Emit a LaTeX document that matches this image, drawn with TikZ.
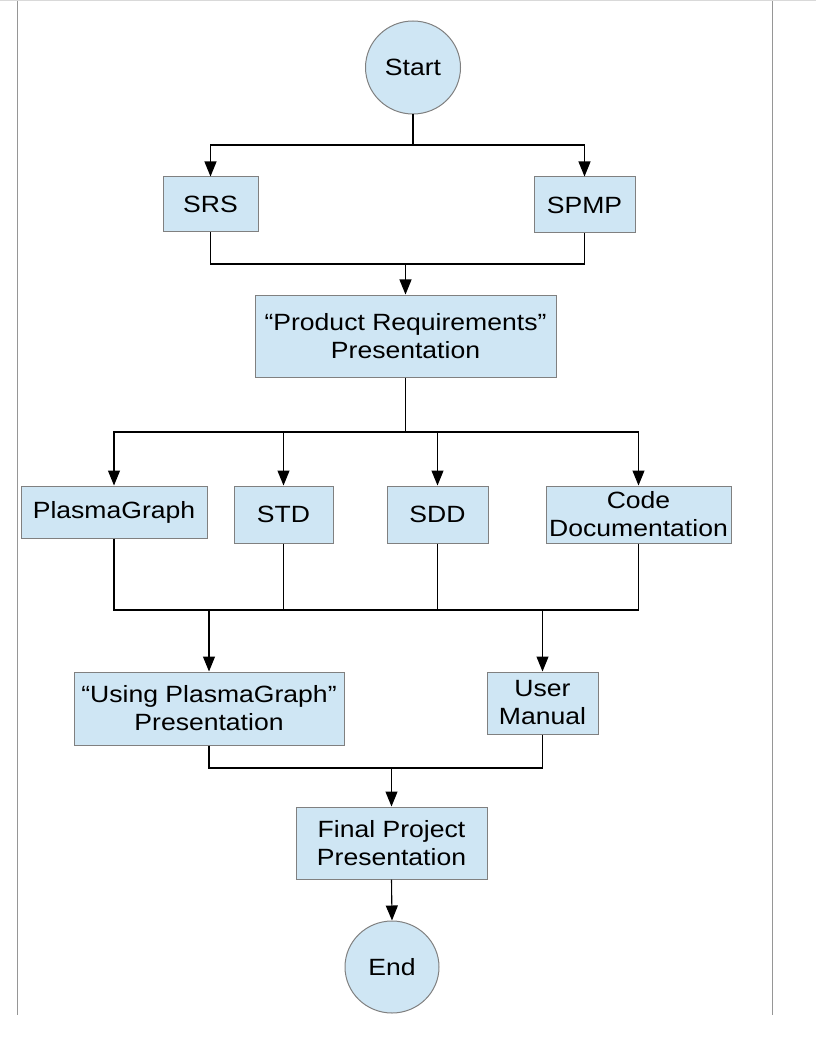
\documentclass[tikz,border=0pt]{standalone}
\usepackage{fontspec}
\setmainfont[FakeStretch=1.13]{Liberation Sans}
\usetikzlibrary{arrows.meta,shapes.geometric}
\definecolor{boxfill}{RGB}{207,230,244}
\definecolor{boxline}{RGB}{128,128,128}
\definecolor{pageline}{RGB}{150,150,150}
\begin{document}
\begin{tikzpicture}[x=1pt,y=-1pt,
  box/.style={draw=boxline,line width=1pt,fill=boxfill,align=center,inner sep=0pt,
    font=\fontsize{23.5}{28}\selectfont},
  term/.style={ellipse,draw=boxline,line width=1pt,fill=boxfill,inner sep=0pt,
    font=\fontsize{23.5}{28}\selectfont},
  conn/.style={line width=1.1pt,draw=black},
  arr/.style={conn,-{Triangle[length=15pt,width=12pt]}}]
\useasboundingbox (0,0) rectangle (816,1056);
\draw[pageline,line width=1pt] (17,0) -- (17,1015);
\draw[pageline,line width=1pt] (772,0) -- (772,1015);
\draw[black!15,line width=1pt] (0,0.5) -- (816,0.5);

\node[term,minimum width=95pt,minimum height=93pt] (start) at (413,67.5) {Start};
\node[box,minimum width=95pt,minimum height=55pt] (srs) at (210.5,204.5) {SRS};
\node[box,minimum width=101pt,minimum height=56pt] (spmp) at (584.5,205) {SPMP};
\node[box,minimum width=301pt,minimum height=82pt] (pr) at (405.5,336) {“Product Requirements”\\Presentation};
\node[box,minimum width=186pt,minimum height=52pt] (pg) at (114,512) {PlasmaGraph};
\node[box,minimum width=99pt,minimum height=57pt] (std) at (283.5,514.5) {STD};
\node[box,minimum width=101pt,minimum height=57pt] (sdd) at (437.5,514.5) {SDD};
\node[box,minimum width=185pt,minimum height=57pt] (cd) at (638.5,514.5) {Code\\Documentation};
\node[box,minimum width=270pt,minimum height=73pt] (upg) at (209,708.5) {“Using PlasmaGraph”\\Presentation};
\node[box,minimum width=111pt,minimum height=62pt] (um) at (542.5,703) {User\\Manual};
\node[box,minimum width=191pt,minimum height=72pt] (fp) at (391.5,843) {Final Project\\Presentation};
\node[term,minimum width=94pt,minimum height=92pt] (end) at (392,967) {End};

\coordinate (j1) at (413,145);
\coordinate (j2) at (405.5,264);
\coordinate (j3) at (405.5,432);
\coordinate (j4) at (209,610);
\coordinate (j5) at (542.5,610);
\coordinate (j6) at (391.5,768);

\draw[conn] (start.south) -- (j1);
\draw[arr] (j1) -| (srs.north);
\draw[arr] (j1) -| (spmp.north);
\draw[conn] (srs.south) |- (j2);
\draw[conn] (spmp.south) |- (j2);
\draw[arr] (j2) -- (pr.north);

\draw[conn] (pr.south) -- (j3);
\draw[arr] (j3) -| (pg.north);
\draw[arr] (j3) -| (std.north);
\draw[arr] (j3) -| (sdd.north);
\draw[arr] (j3) -| (cd.north);

\draw[conn] (pg.south) |- (j4);
\draw[conn] (std.south) |- (j4);
\draw[conn] (sdd.south) |- (j5);
\draw[conn] (cd.south) |- (j5);
\draw[conn] (j4) -- (j5);
\draw[arr] (j4) -- (upg.north);
\draw[arr] (j5) -- (um.north);

\draw[conn] (upg.south) |- (j6);
\draw[conn] (um.south) |- (j6);
\draw[arr] (j6) -- (fp.north);
\draw[arr] (fp.south) -- (end.north);
\end{tikzpicture}
\end{document}
